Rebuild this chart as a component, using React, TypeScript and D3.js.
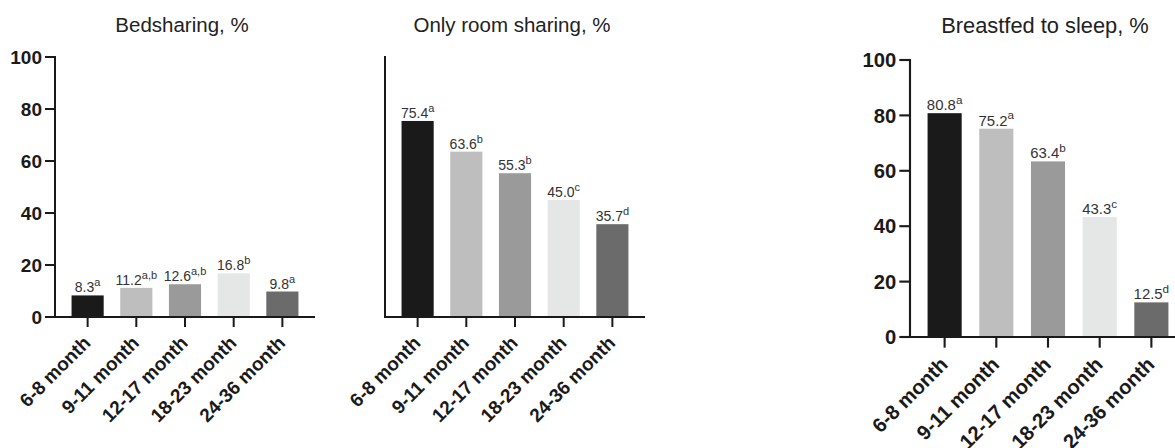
import React from "react";
import * as d3 from "d3";

const categories = ["6-8 month", "9-11 month", "12-17 month", "18-23 month", "24-36 month"];
const bedsharing = [8.3, 11.2, 12.6, 16.8, 9.8];
const bedsharingSig = ["a", "a,b", "a,b", "b", "a"];
const roomSharing = [75.4, 63.6, 55.3, 45.0, 35.7];
const roomSharingSig = ["a", "b", "b", "c", "d"];
const breastfed = [80.8, 75.2, 63.4, 43.3, 12.5];
const breastfedSig = ["a", "a", "b", "c", "d"];
const yTicks = [0, 20, 40, 60, 80, 100];
const titles = ["Bedsharing, %", "Only room sharing, %", "Breastfed to sleep, %"];
const barColors = ["#1a1a1a", "#bebebe", "#9a9a9a", "#e5e6e6", "#6b6b6b"];

const FONT = "'Liberation Sans', Arial, Helvetica, sans-serif";
const fmt = d3.format(".1f");

type PanelProps = {
  title: string;
  values: number[];
  sig: string[];
  x0: number;
  x1: number;
  yZero: number;
  yTop: number;
  k: number;
  showTicks: boolean;
};

function Panel({ title, values, sig, x0, x1, yZero, yTop, k, showTicks }: PanelProps) {
  const x = d3.scaleBand<string>().domain(categories).range([x0, x1]).padding(0.34);
  const y = d3.scaleLinear().domain([0, 100]).range([yZero, yTop]);
  const axisColor = "#1a1a1a";
  const tickLen = 10 * k;
  return (
    <g>
      <text
        x={(x0 + x1) / 2 - 3}
        y={y(100) - 25 * k}
        textAnchor="middle"
        fontFamily={FONT}
        fontSize={20.5 * k}
        fill="#222"
      >
        {title}
      </text>
      {values.map((v, i) => (
        <rect
          key={i}
          x={x(categories[i])}
          y={y(v)}
          width={x.bandwidth()}
          height={y(0) - y(v)}
          fill={barColors[i]}
        />
      ))}
      {values.map((v, i) => (
        <text
          key={"l" + i}
          x={(x(categories[i]) as number) + x.bandwidth() / 2}
          y={y(v) - 3}
          textAnchor="middle"
          fontFamily={FONT}
          fontSize={14 * k}
          fill="#333"
        >
          {fmt(v)}
          <tspan fontSize={11 * k} dy={-6 * k}>{sig[i]}</tspan>
        </text>
      ))}
      {/* y axis */}
      <line x1={x0} x2={x0} y1={y(100) - 1} y2={y(0) + 1} stroke={axisColor} strokeWidth={2 * k} />
      {showTicks &&
        yTicks.map((t) => (
          <g key={"t" + t}>
            <line x1={x0 - tickLen} x2={x0} y1={y(t)} y2={y(t)} stroke={axisColor} strokeWidth={2 * k} />
            <text
              x={x0 - tickLen - 3}
              y={y(t)}
              dy="0.36em"
              textAnchor="end"
              fontFamily={FONT}
              fontWeight="bold"
              fontSize={19 * k}
              fill="#1a1a1a"
            >
              {t}
            </text>
          </g>
        ))}
      {/* x axis */}
      <line x1={x0} x2={x1} y1={y(0)} y2={y(0)} stroke={axisColor} strokeWidth={2 * k} />
      {categories.map((c) => {
        const cx = (x(c) as number) + x.bandwidth() / 2;
        return (
          <g key={"x" + c}>
            <line x1={cx} x2={cx} y1={y(0)} y2={y(0) + tickLen} stroke={axisColor} strokeWidth={2 * k} />
            <text
              transform={`translate(${cx + 4 * k},${y(0) + 27 * k}) rotate(-45)`}
              textAnchor="end"
              fontFamily={FONT}
              fontWeight="bold"
              fontSize={19 * k}
              fill="#1a1a1a"
            >
              {c}
            </text>
          </g>
        );
      })}
    </g>
  );
}

export default function App() {
  return (
    <svg
      width={1175}
      height={448}
      style={{ position: "absolute", left: 0, top: 0, background: "#fff" }}
    >
      <rect width={1175} height={448} fill="#fff" />
      <Panel title={titles[0]} values={bedsharing} sig={bedsharingSig} x0={55} x1={315} yZero={317} yTop={57} k={1} showTicks={true} />
      <Panel title={titles[1]} values={roomSharing} sig={roomSharingSig} x0={385} x1={645} yZero={317} yTop={57} k={1} showTicks={false} />
      <Panel title={titles[2]} values={breastfed} sig={breastfedSig} x0={910} x1={1186} yZero={337} yTop={60} k={1.065} showTicks={true} />
    </svg>
  );
}
